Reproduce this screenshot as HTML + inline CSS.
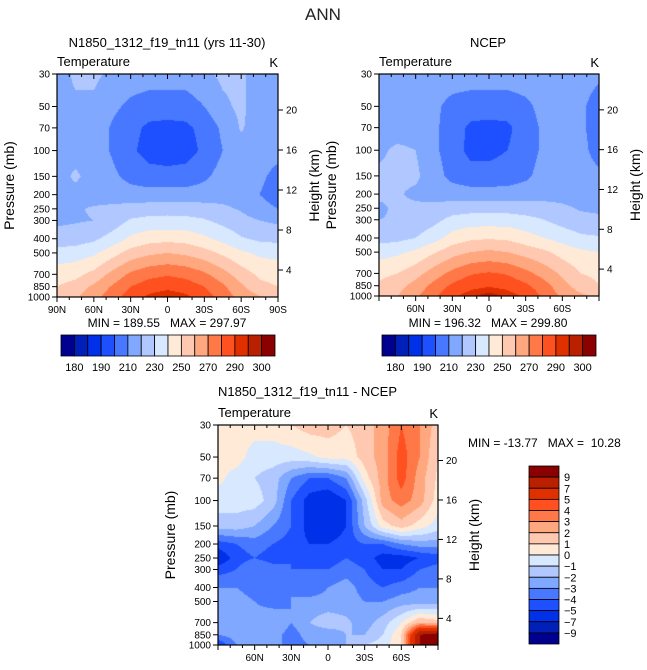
<!DOCTYPE html>
<html><head><meta charset="utf-8"><style>
body{margin:0;background:#fff;width:647px;height:670px;overflow:hidden;font-family:"Liberation Sans",sans-serif;}
#wrap{position:relative;width:647px;height:670px;}
canvas{position:absolute;}
svg{position:absolute;left:0;top:0;}
svg text{white-space:pre;}
</style></head><body>
<div id="wrap">
<canvas id="c1"></canvas>
<canvas id="c2"></canvas>
<canvas id="c3"></canvas>
<svg id="ov" width="647" height="670"></svg>
</div>
<script>
const lats=[90,75,60,45,30,15,0,-15,-30,-45,-60,-75,-90];
const plevs=[30,50,70,100,150,200,250,300,400,500,700,850,1000];
const tLevels=[180,185,190,200,210,220,230,240,250,260,270,280,290,295,300];
const tLabels=["180","190","210","230","250","270","290","300"];
const dLevels=[-9,-7,-5,-4,-3,-2,-1,0,1,2,3,4,5,7,9];
const dLabels=["9","7","5","4","3","2","1","0","-1","-2","-3","-4","-5","-7","-9"];
const colors=["#000090","#0020b8","#0030e8","#1e50ff","#4878ff","#80a8ff","#b0c8ff","#d8e8ff","#ffead8","#ffc8b0","#ffa880","#ff7848","#ff5020","#e03000","#b82000","#8b0000"];
const modelT=[
[215,222,222,218,215,215,215,215,218,222,222,215,215],
[215,218,218,212,208,205,205,205,210,218,222,215,215],
[215,215,215,209,203,198,197,198,203,212,221,215,214],
[215,215,215,209,202,196,194,196,202,210,216,214,213],
[215,222,215,212,207,204,204,204,208,214,215,212,207],
[216,216,216,216,214,214,214,214,215,216,215,210,205],
[219,219,221,222,224,225,226,225,224,222,219,214,210],
[218,219,220,224,231,233,233,233,231,227,223,220,218],
[224,225,228,234,242,246,247,246,242,237,231,228,227],
[234,235,238,246,254,258,260,258,254,248,242,238,237],
[245,247,253,263,272,277,279,277,272,264,255,248,246],
[250,254,262,271,280,285,287,285,280,272,262,253,250],
[255,259,266,276,285,292,296,292,285,276,266,261,258]];
const ncepT=[
[215,218,215,215,215,215,215,215,215,215,215,215,212],
[215,215,215,212,207,205,205,205,208,213,215,212,205],
[215,215,215,212,205,198,197,198,205,212,215,212,205],
[218,222,220,212,205,197,197,200,205,212,215,213,206],
[222,222,222,214,207,204,204,205,208,214,215,214,212],
[222,221,218,216,215,214,214,214,215,216,216,215,214],
[218,222,222,223,225,226,226,226,225,224,222,219,218],
[220,221,223,227,233,235,235,235,233,230,226,223,222],
[226,227,230,236,244,248,249,248,244,240,236,232,231],
[236,238,242,249,256,260,262,260,256,252,246,242,240],
[247,250,256,265,273,279,281,279,273,266,258,250,248],
[252,256,264,273,282,287,289,287,282,274,264,255,250],
[256,260,268,278,288,294,298,294,288,278,268,262,258]];
const diffT=[
[0.5,0.5,0.5,0.5,1,1.5,1.5,1,1.5,2.5,4,3,1.5],
[0.5,0.5,-0.5,-0.5,-0.5,-0.2,0.3,0.3,1.5,2.5,4.5,3,1],
[0.3,-0.5,-1,-1.5,-3,-4,-4,-3,0.5,2.5,4.5,2.5,0.8],
[-0.5,-0.5,-0.5,-1.5,-4,-5.5,-6,-5,-1.5,2.5,3.5,2.5,0.5],
[-1.5,-1.5,-2,-3,-4,-5.5,-6,-5,-2,0.5,1.5,0.5,-0.5],
[-4.5,-4,-3.5,-4,-4.5,-5,-5,-4.5,-4,-4,-3,-2.5,-2.5],
[-6,-4.5,-4,-4.5,-4,-4.5,-4.5,-4,-4.5,-5.5,-5.5,-5,-4.5],
[-4.5,-4,-3,-3.5,-4,-4,-4,-3.5,-4,-5,-5,-4,-3.5],
[-3,-3,-3.5,-3,-3,-4,-3,-2.5,-3.5,-4,-3.5,-3,-3],
[-3,-2.5,-3,-3.5,-3,-2.5,-2.5,-2.5,-3,-3,-2.5,-2.5,-2.5],
[-2.5,-2,-2.5,-2,-3,-2,-1.5,-1.8,-2.5,-1.5,0,2,1.5],
[-3,-2.5,-2.5,-2.5,-3.5,-2.5,-2.5,-2,-2,-1,1,9,10],
[-5,-3,-3,-2.5,-3.5,-3,-2.5,-2,-1,-0.5,1,9,10]];

const NS="http://www.w3.org/2000/svg";
const ov=document.getElementById('ov');
function el(tag,attrs,txt){const e=document.createElementNS(NS,tag);for(const k in attrs)e.setAttribute(k,attrs[k]);if(txt!==undefined)e.textContent=txt;ov.appendChild(e);return e;}
function hex(c){return [parseInt(c.slice(1,3),16),parseInt(c.slice(3,5),16),parseInt(c.slice(5,7),16)];}
const rgb=colors.map(hex);

function drawPlot(cid,P,grid,levels,latLabels,name){
  const W=P.x1-P.x0,H=P.y1-P.y0;
  const xs=lat=>P.x0+(90-lat)/180*W;
  const ys=p=>P.y0+Math.log(p/30)/Math.log(1000/30)*H;
  const cv=document.getElementById(cid);
  cv.width=W;cv.height=H;cv.style.left=P.x0+'px';cv.style.top=P.y0+'px';
  const ctx=cv.getContext('2d');const img=ctx.createImageData(W,H);
  const rowY=plevs.map(p=>ys(p)-P.y0);
  for(let py=0;py<H;py++){
    const yy=py+0.5;let r=0;while(r<plevs.length-2&&rowY[r+1]<yy)r++;
    let ty=(yy-rowY[r])/(rowY[r+1]-rowY[r]);ty=Math.max(0,Math.min(1,ty));
    for(let px=0;px<W;px++){
      const fx=(px+0.5)/W*(lats.length-1);let c=Math.min(lats.length-2,Math.floor(fx));const tx=fx-c;
      const v=(grid[r][c]*(1-tx)+grid[r][c+1]*tx)*(1-ty)+(grid[r+1][c]*(1-tx)+grid[r+1][c+1]*tx)*ty;
      let k=0;while(k<levels.length&&levels[k]<=v)k++;
      const col=rgb[k];const i=(py*W+px)*4;
      img.data[i]=col[0];img.data[i+1]=col[1];img.data[i+2]=col[2];img.data[i+3]=255;
    }
  }
  ctx.putImageData(img,0,0);
  el('rect',{x:P.x0,y:P.y0,width:W,height:H,fill:'none',stroke:'#000','stroke-width':1.2,});
  plevs.forEach(p=>{const y=ys(p);
    el('line',{x1:P.x0-5,y1:y,x2:P.x0,y2:y,stroke:'#000',});
    el('text',{x:P.x0-7,y:y+3.5,'font-size':10,'text-anchor':'end',},String(p));});
  [4,8,12,16,20].forEach(h=>{const y=P.y0+(150-74)*H/223+(16-h)*10*H/223;
    el('line',{x1:P.x1,y1:y,x2:P.x1+5,y2:y,stroke:'#000',});
    el('text',{x:P.x1+8,y:y+3.5,'font-size':10,},String(h));});
  for(let lat=90;lat>=-90;lat-=10){const x=xs(lat);const major=lat%30===0;
    el('line',{x1:x,y1:P.y0,x2:x,y2:P.y0+(major?5:3),stroke:'#000',});
    el('line',{x1:x,y1:P.y1,x2:x,y2:P.y1+(major?5:3),stroke:'#000',});}
  latLabels.forEach(l=>{const lat=l==='0'?0:(l.endsWith('N')?1:-1)*parseInt(l);
    el('text',{x:xs(lat),y:P.y1+16,'font-size':10,'text-anchor':'middle',},l);});
  el('text',{x:P.x0,y:P.y0-8,'font-size':13,},'Temperature');
  el('text',{x:P.x1,y:P.y0-7,'font-size':13,'text-anchor':'end',},'K');
  const cy=(P.y0+P.y1)/2;
  el('text',{x:0,y:0,'font-size':14,'text-anchor':'middle',transform:`translate(${P.x0-43},${cy}) rotate(-90)`,},'Pressure (mb)');
  el('text',{x:0,y:0,'font-size':14,'text-anchor':'middle',transform:`translate(${P.x1+41},${cy}) rotate(-90)`,},'Height (km)');
}
function hbar(x0,y0,w,h,name){const bw=w/colors.length;
  colors.forEach((c,i)=>el('rect',{x:x0+i*bw,y:y0,width:bw,height:h,fill:c,stroke:'#000','stroke-width':0.8,}));
  tLabels.forEach((t,i)=>el('text',{x:x0+(2*i+1)*bw,y:y0+h+15,'font-size':11,'text-anchor':'middle',},t));}

el('text',{x:323,y:20,'font-size':17,'text-anchor':'middle',fill:'#222',},'ANN');
el('text',{x:167,y:47,'font-size':13,'text-anchor':'middle',},'N1850_1312_f19_tn11 (yrs 11-30)');
el('text',{x:488,y:47,'font-size':13,'text-anchor':'middle',},'NCEP');
drawPlot('c1',{x0:57,x1:278,y0:74,y1:297},modelT,tLevels,['90N','60N','30N','0','30S','60S','90S'],'model');
drawPlot('c2',{x0:379,x1:599,y0:74,y1:296},ncepT,tLevels,['60N','30N','0','30S','60S'],'ncep');
el('text',{x:167,y:327,'font-size':12,'text-anchor':'middle',},'MIN = 189.55   MAX = 297.97');
el('text',{x:488,y:327,'font-size':12,'text-anchor':'middle',},'MIN = 196.32   MAX = 299.80');
hbar(61,335,214,21,'model-colorbar');
hbar(382,335,214,21,'ncep-colorbar');
el('text',{x:218,y:396,'font-size':13,},'N1850_1312_f19_tn11 - NCEP');
drawPlot('c3',{x0:218,x1:438,y0:425,y1:645},diffT,dLevels,['60N','30N','0','30S','60S'],'difference');
el('text',{x:468,y:447,'font-size':12,},'MIN = -13.77   MAX =  10.28');
(function(){const x0=529,y0=466,w=30,h=178,bh=h/colors.length;
  colors.slice().reverse().forEach((c,i)=>el('rect',{x:x0,y:y0+i*bh,width:w,height:bh,fill:c,stroke:'#000','stroke-width':0.8,}));
  dLabels.forEach((t,i)=>el('text',{x:x0+w+5,y:y0+(i+1)*bh+4,'font-size':11,},t.replace('-','\u2212')));})();
</script>
</body></html>
